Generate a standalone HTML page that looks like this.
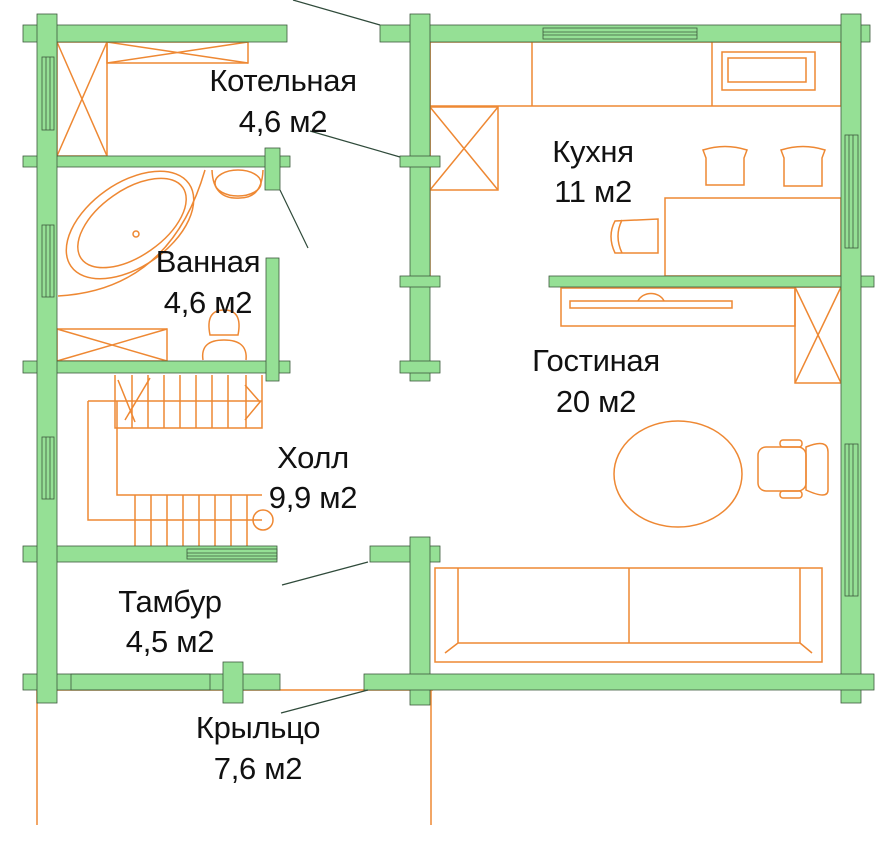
<!DOCTYPE html>
<html><head><meta charset="utf-8"><style>
html,body{margin:0;padding:0;background:#fff;width:876px;height:845px;overflow:hidden}
svg text{font-family:"Liberation Sans","DejaVu Sans",sans-serif;font-size:31px;fill:#111;text-anchor:middle;letter-spacing:-0.3px}
</style></head><body>
<svg width="876" height="845" viewBox="0 0 876 845" xmlns="http://www.w3.org/2000/svg">
<g fill="none" stroke="#ee8833" stroke-width="1.5">
<path d="M37 690 H433 M37 690 V825 M431 690 V825"/>
<rect x="57" y="42" width="50" height="114"/><path d="M57 42 L107 156 M107 42 L57 156"/>
<rect x="107" y="42" width="141" height="21"/><path d="M107 42 L248 63 M248 42 L107 63"/>
<ellipse cx="130" cy="225" rx="72" ry="42" transform="rotate(-35 130 225)"/>
<ellipse cx="132" cy="223" rx="62" ry="33" transform="rotate(-35 132 223)"/>
<circle cx="136" cy="234" r="3"/>
<path d="M58 296 Q170 290 205 170"/>
<ellipse cx="238" cy="183" rx="23" ry="13"/>
<path d="M212 170 Q213 200 240 198 Q262 198 263 170"/>
<rect x="57" y="329" width="110" height="32"/><path d="M57 329 L167 361 M167 329 L57 361"/>
<path d="M210 335 Q205 310 224 310 Q243 310 238 335 Z"/>
<path d="M203 360 Q200 340 224 340 Q248 340 246 360"/>
<path d="M88 401 V520 H262 M117 401 V495 H262 M88 401 H262 M115 375 V428 H262 V375"/>
<path d="M132 375V428M148 375V428M164 375V428M180 375V428M196 375V428M212 375V428M228 375V428M246 375V428"/>
<path d="M135 495V546M151 495V546M167 495V546M183 495V546M199 495V546M215 495V546M231 495V546M247 495V546"/>
<path d="M118 380 L135 422 M150 378 L125 420 M245 385 L260 402 L245 420"/>
<circle cx="263" cy="520" r="10"/>
<rect x="430" y="42" width="411" height="64"/><path d="M532 42V106M712 42V106"/>
<rect x="722" y="52" width="93" height="38"/><rect x="728" y="58" width="78" height="24"/>
<rect x="430" y="107" width="68" height="83"/><path d="M430 107 L498 190 M498 107 L430 190"/>
<path d="M430 42 V276"/>
<rect x="665" y="198" width="176" height="78"/>
<path d="M703 150 Q725 143 747 150 L744 158 V185 H706 V158 Z"/>
<path d="M781 150 Q803 143 825 150 L822 158 V186 H784 V158 Z"/>
<path d="M658 219 V253 H615 Q607 236 615 221 Z M622 220 Q614 236 622 253"/>
<rect x="561" y="288" width="234" height="38"/>
<rect x="570" y="301" width="162" height="7"/>
<path d="M638 301 A14 12 0 0 1 664 301"/>
<rect x="795" y="287" width="46" height="96"/><path d="M795 287 L841 383 M841 287 L795 383"/>
<ellipse cx="678" cy="474" rx="64" ry="53"/>
<rect x="758" y="447" width="48" height="44" rx="8"/>
<path d="M806 447 Q828 438 828 452 V490 Q828 500 806 490 Z"/>
<rect x="780" y="440" width="22" height="7" rx="3"/><rect x="780" y="491" width="22" height="7" rx="3"/>
<rect x="435" y="568" width="387" height="94"/>
<path d="M458 568 V643 H800 V568 M629 568 V643 M458 643 L445 653 M800 643 L812 653"/>
</g>
<g fill="#95e095" stroke="#3d5a3d" stroke-width="0.8">
<rect x="23" y="25" width="264" height="17"/>
<rect x="23" y="156" width="267" height="11"/>
<rect x="23" y="361" width="267" height="12"/>
<rect x="23" y="546" width="254" height="16"/>
<rect x="23" y="674" width="257" height="16"/>
<rect x="37" y="14" width="20" height="689"/>
<rect x="265" y="148" width="15" height="42"/>
<rect x="266" y="258" width="13" height="123"/>
<rect x="223" y="662" width="20" height="41"/>
<rect x="380" y="25" width="490" height="17"/>
<rect x="410" y="14" width="20" height="367"/>
<rect x="400" y="156" width="40" height="11"/>
<rect x="400" y="276" width="40" height="11"/>
<rect x="400" y="361" width="40" height="12"/>
<rect x="549" y="276" width="325" height="11"/>
<rect x="841" y="14" width="20" height="689"/>
<rect x="370" y="546" width="70" height="16"/>
<rect x="410" y="537" width="20" height="168"/>
<rect x="364" y="674" width="510" height="16"/>
</g>
<g fill="none" stroke="#3d5a3d" stroke-width="0.8">
<rect x="42" y="57" width="12" height="73"/><path d="M46 57V130M50 57V130"/>
<rect x="42" y="225" width="12" height="72"/><path d="M46 225V297M50 225V297"/>
<rect x="42" y="437" width="12" height="62"/><path d="M46 437V499M50 437V499"/>
<rect x="187" y="549" width="90" height="10"/><path d="M187 553H277M187 556H277"/>
<rect x="543" y="28" width="154" height="11"/><path d="M543 32H697M543 35H697"/>
<rect x="845" y="135" width="13" height="113"/><path d="M849 135V248M853 135V248"/>
<rect x="845" y="444" width="13" height="152"/><path d="M849 444V596M853 444V596"/>
<rect x="71" y="674" width="139" height="16"/>
</g>
<g stroke="#2f4a3a" stroke-width="1.2" fill="none">
<path d="M293 0 L380 25 M310 131 L400 157 M280 190 L308 248 M282 585 L368 562 M281 713 L368 690"/>
</g>
<text x="283" y="91">Котельная</text><text x="283" y="132">4,6 м2</text>
<text x="208" y="272">Ванная</text><text x="208" y="313">4,6 м2</text>
<text x="593" y="162">Кухня</text><text x="593" y="202">11 м2</text>
<text x="596" y="371">Гостиная</text><text x="596" y="412">20 м2</text>
<text x="313" y="468">Холл</text><text x="313" y="508">9,9 м2</text>
<text x="170" y="612">Тамбур</text><text x="170" y="652">4,5 м2</text>
<text x="258" y="738">Крыльцо</text><text x="258" y="779">7,6 м2</text>
</svg>
</body></html>
